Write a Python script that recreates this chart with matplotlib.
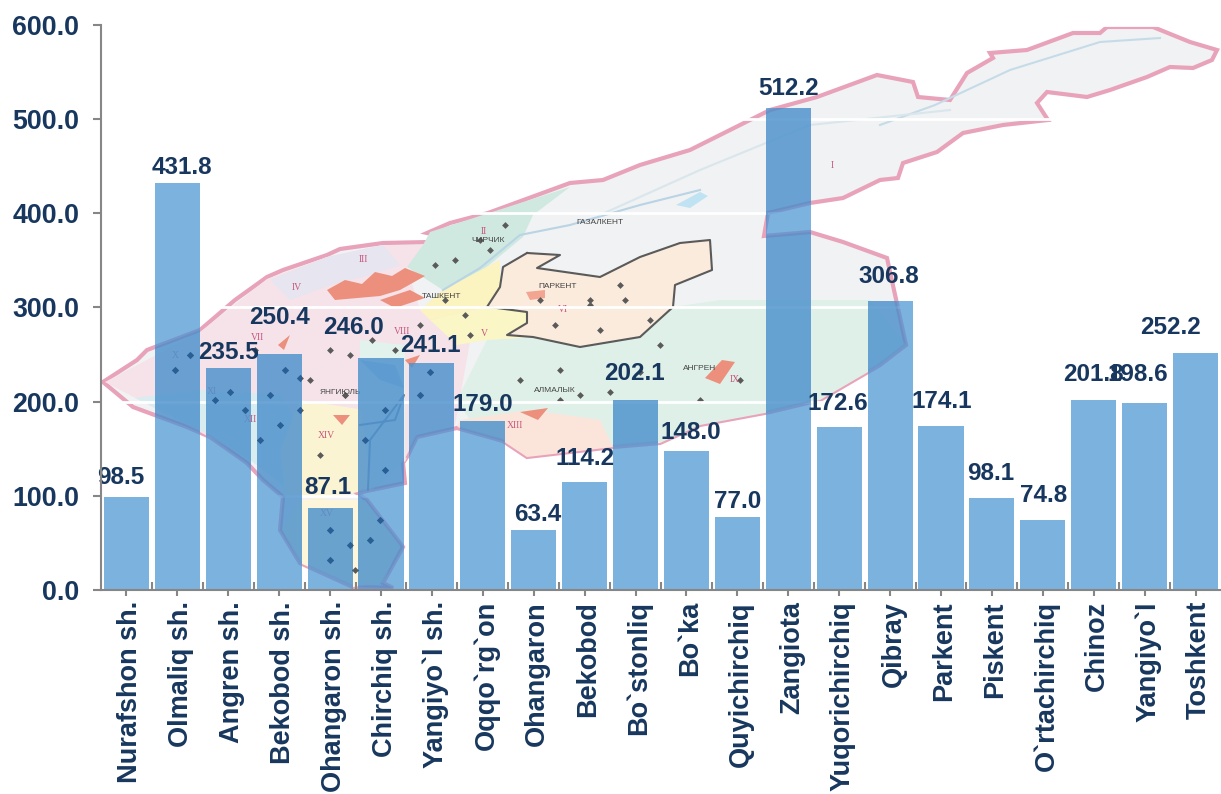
import matplotlib
matplotlib.use('Agg')
import matplotlib.pyplot as plt
from matplotlib.patches import Polygon
from matplotlib.path import Path
from matplotlib.transforms import Affine2D, ScaledTranslation

plt.rcParams['font.family'] = ['Liberation Sans', 'DejaVu Sans']
plt.rcParams['font.weight'] = 'bold'

districts = ['Nurafshon sh.', 'Olmaliq sh.', 'Angren sh.', 'Bekobod sh.', 'Ohangaron sh.',
             'Chirchiq sh.', 'Yangiyo`l sh.', 'Oqqo`rg`on', 'Ohangaron', 'Bekobod',
             'Bo`stonliq', 'Bo`ka', 'Quyichirchiq', 'Zangiota', 'Yuqorichirchiq',
             'Qibray', 'Parkent', 'Piskent', 'O`rtachirchiq', 'Chinoz', 'Yangiyo`l', 'Toshkent']
values = [98.5, 431.8, 235.5, 250.4, 87.1, 246.0, 241.1, 179.0, 63.4, 114.2, 202.1,
          148.0, 77.0, 512.2, 172.6, 306.8, 174.1, 98.1, 74.8, 201.8, 198.6, 252.2]
y_ticks = [0, 100, 200, 300, 400, 500, 600]

# hand placed value labels, pixels away from the bar top
label_dx = [-6, 5, 0, 0, -2, -28, -2, 0, 4, 0, -1, 4, 0, 0, -1, -1, 1, -1, 1, 0, -7, -25]
label_dy = [20, 16, 16, 37, 20, 31, 17, 17, 16, 24, 26, 18, 16, 19, 24, 25, 25, 24, 24, 25, 28, 25]

TEXT = '#17375E'
AXIS = '#868686'

fig = plt.figure(figsize=(12.21, 7.94), dpi=100)
ax = fig.add_axes([101 / 1221, (794 - 590) / 794, 1120 / 1221, 565 / 794])
ax.set_xlim(-0.5, 21.5)
ax.set_ylim(0, 600)

# background map, traced in image pixels
px = Affine2D().scale(1, -1).translate(0, 794)

outline = [(103, 382), (137, 360), (147, 350), (200, 330), (235, 300), (267, 277), (283, 270), (327, 255),
           (340, 249), (383, 243), (430, 242), (450, 238), (427, 233), (450, 223), (488, 213), (570, 183),
           (603, 180), (640, 165), (690, 150), (720, 135), (770, 110), (817, 97), (877, 75), (913, 82),
           (918, 97), (950, 100), (967, 73), (993, 58), (990, 53), (1027, 50), (1073, 33), (1100, 33),
           (1107, 27), (1153, 27), (1190, 42), (1217, 50), (1212, 60), (1193, 68), (1170, 67), (1147, 77),
           (1110, 90), (1087, 97), (1047, 92), (1037, 103), (1048, 120), (1003, 125), (963, 133), (937, 152),
           (903, 163), (898, 178), (880, 180), (843, 198), (810, 203), (768, 213), (764, 236), (810, 232),
           (843, 242), (887, 258), (906, 345), (880, 365), (820, 400), (770, 412), (700, 425), (660, 443),
           (613, 447), (527, 457), (503, 441), (457, 428), (417, 437), (407, 457), (403, 463), (405, 483),
           (357, 493), (367, 500), (403, 547), (383, 583), (393, 588), (353, 587), (300, 563), (280, 530),
           (283, 497), (263, 480), (247, 463), (210, 437), (187, 427), (133, 407)]
ax.add_patch(Polygon(outline, closed=True, fc='#F1F2F3', ec='#E8A3BA', lw=3, transform=px, zorder=0.1))

regions = [
    ('#F5E3E9', [(105, 382), (200, 332), (267, 279), (327, 257), (383, 245), (425, 245), (407, 267), (420, 310),
                 (450, 322), (470, 342), (455, 425), (417, 435), (405, 462), (300, 400), (270, 470), (187, 425)]),
    ('#D9ECEF', [(135, 398), (200, 390), (280, 395), (300, 425), (290, 490), (250, 460), (210, 435)]),
    ('#FBF4D3', [(300, 400), (365, 410), (372, 490), (358, 492), (320, 500), (285, 495), (280, 450)]),
    ('#E2F2EC', [(360, 340), (405, 345), (405, 460), (372, 490), (360, 400)]),
    ('#FDF6DA', [(300, 500), (365, 500), (400, 545), (383, 583), (353, 587), (300, 563), (282, 530)]),
    ('#CFE9E0', [(430, 232), (570, 187), (533, 215), (523, 237), (483, 270), (443, 290), (407, 267), (423, 245)]),
    ('#E6E5F0', [(270, 280), (327, 257), (383, 245), (400, 265), (370, 275), (330, 285), (290, 300)]),
    ('#DFF0E8', [(487, 340), (533, 337), (580, 347), (640, 337), (673, 307), (720, 300), (870, 300), (906, 345),
                 (880, 365), (820, 400), (770, 412), (700, 425), (660, 443), (613, 447), (600, 420), (530, 410),
                 (470, 420), (457, 400)]),
    ('#FBE5DA', [(460, 420), (530, 410), (600, 420), (613, 447), (527, 457), (503, 441), (457, 428)]),
    ('#FBF6C5', [(430, 320), (487, 307), (527, 312), (527, 323), (507, 335), (533, 337), (487, 340), (457, 345)]),
    ('#FBF3C0', [(443, 290), (500, 260), (500, 287), (487, 307), (430, 320), (420, 310)]),
    ('#FBEBDD', [(503, 267), (527, 253), (560, 255), (537, 268), (600, 277), (640, 257), (680, 243), (710, 240),
                 (712, 270), (675, 285), (673, 307), (640, 337), (580, 347), (533, 337), (507, 335), (527, 323),
                 (527, 312), (497, 308), (487, 307), (500, 287)]),
    ('#EC8F7C', [(327, 290), (345, 280), (362, 284), (375, 272), (392, 276), (405, 268), (425, 276), (400, 290),
                 (380, 296), (335, 300)]),
    ('#EC8F7C', [(380, 300), (410, 290), (425, 298), (395, 308)]),
    ('#EC8F7C', [(705, 378), (722, 360), (735, 362), (720, 384)]),
    ('#F2A691', [(526, 292), (545, 290), (545, 298), (530, 300)]),
    ('#EC8F7C', [(520, 412), (548, 408), (538, 420)]),
    ('#EC8F7C', [(333, 415), (350, 415), (342, 425)]),
    ('#EC8F7C', [(405, 360), (420, 355), (412, 368)]),
    ('#EC8F7C', [(278, 345), (290, 335), (284, 350)]),
    ('#BFE3F2', [(676, 205), (700, 192), (708, 196), (690, 208)]),
    ('#A9C9E8', [(360, 360), (395, 365), (404, 388), (380, 380)]),
]
for color, points in regions:
    ax.add_patch(Polygon(points, closed=True, fc=color, ec='none', transform=px, zorder=0.2))

borders = [
    ('#5A5A5A', [(527, 253), (560, 255), (537, 268), (600, 277), (640, 257), (680, 243), (710, 240), (712, 270),
                 (675, 285), (673, 307), (640, 337), (580, 347), (533, 337), (507, 335), (527, 323), (527, 312),
                 (497, 308), (487, 307), (500, 287), (503, 267), (527, 253)]),
    ('#6A7FA0', [(360, 425), (395, 420), (404, 395), (370, 440), (368, 490)]),
    ('#B9D4E4', [(443, 290), (480, 268), (520, 235), (570, 225), (640, 205), (700, 190)]),
    ('#C5DCE8', [(880, 125), (935, 105), (1010, 70), (1100, 42), (1160, 38)]),
    ('#D9E6EC', [(600, 215), (700, 170), (810, 125), (950, 110)]),
    ('#E8A3BA', [(407, 457), (417, 437), (457, 428), (503, 441)]),
]
for color, points in borders:
    ax.plot(*zip(*points), color=color, lw=1.5, transform=px, zorder=0.3)

towns_x = [300, 330, 345, 372, 395, 420, 445, 465, 470, 490, 540, 555, 590, 600, 620, 650, 660, 230, 245, 260,
           285, 300, 320, 345, 365, 385, 330, 350, 380, 330, 355, 370, 520, 560, 610, 700, 740, 175, 190, 215,
           280, 310, 350, 435, 455, 480, 505, 590, 625, 640, 560, 580, 430, 420, 385, 270, 255]
towns_y = [378, 350, 395, 340, 350, 325, 300, 315, 335, 250, 300, 325, 300, 330, 285, 320, 345, 392, 410, 440,
           370, 410, 455, 395, 440, 410, 530, 545, 520, 560, 570, 540, 380, 370, 392, 400, 380, 370, 355, 400,
           425, 380, 355, 265, 260, 240, 225, 305, 300, 372, 400, 395, 372, 395, 470, 395, 350]
ax.scatter(towns_x, towns_y, s=12, marker='D', color='#5A5A5A', linewidths=0, transform=px, zorder=0.35)

place_names = [('ТАШКЕНТ', 442, 297), ('ПАРКЕНТ', 558, 286), ('АНГРЕН', 700, 368), ('ЧИРЧИК', 488, 240),
               ('ГАЗАЛКЕНТ', 600, 223), ('АЛМАЛЫК', 555, 391), ('ЯНГИЮЛЬ', 340, 393)]
for name, name_x, name_y in place_names:
    ax.text(name_x, name_y, name, fontsize=6, fontweight='normal', color='#444444', ha='center', va='center',
            transform=px, zorder=0.4)

numerals = [('XIV', 326, 435), ('XV', 327, 513), ('XII', 250, 420), ('XI', 212, 392), ('X', 175, 355),
            ('VII', 258, 337), ('VIII', 402, 332), ('V', 484, 334), ('VI', 563, 310), ('IV', 297, 288),
            ('III', 363, 260), ('II', 484, 232), ('XIII', 515, 425), ('IX', 735, 380), ('I', 832, 165)]
for name, name_x, name_y in numerals:
    ax.text(name_x, name_y, name, fontsize=7, fontweight='normal', family='Liberation Serif', color='#C9567D',
            ha='center', va='center', transform=px, zorder=0.4)

# white grid sits on the map but under the bars
ax.set_axisbelow(True)
ax.yaxis.grid(True, color='white', lw=2)
ax.xaxis.grid(False)

bars = ax.bar(range(len(values)), values, width=0.885, color='#5B9FD6', alpha=0.8, zorder=2)

# map shows darker through the bars
bar_paths = [b.get_path().transformed(b.get_patch_transform()) for b in bars]
bar_clip = Path.make_compound_path(*bar_paths)
map_shade = Polygon(outline, closed=True, fc='#2F73B5', ec='#6F7FBE', lw=3, alpha=0.22, transform=px, zorder=2.1)
ax.add_patch(map_shade)
map_shade.set_clip_path(bar_clip, ax.transData)
town_shade = ax.scatter(towns_x, towns_y, s=14, marker='D', color='#2A5F95', linewidths=0, transform=px, zorder=2.2)
town_shade.set_clip_path(bar_clip, ax.transData)

for i, v in enumerate(values):
    ax.annotate('%.1f' % v, (i, v), xytext=(label_dx[i], label_dy[i]), textcoords='offset pixels',
                ha='center', va='center', fontsize=17.5, color=TEXT, fontweight='bold', zorder=3)

for side in ['top', 'right']:
    ax.spines[side].set_visible(False)
for side in ['left', 'bottom']:
    ax.spines[side].set_color(AXIS)
    ax.spines[side].set_linewidth(1.5)
    ax.spines[side].set_zorder(4)

ax.set_yticks(y_ticks)
ax.set_yticklabels(['%.1f' % t for t in y_ticks], fontsize=19.3, color=TEXT, fontweight='bold')
ax.set_xticks(range(len(districts)))
ax.set_xticklabels(districts, rotation=90, fontsize=19.5, color=TEXT, fontweight='bold')
ax.set_xticks([i - 0.5 for i in range(1, len(districts))], minor=True)
ax.tick_params(axis='y', direction='out', length=5.5, width=1.5, color=AXIS, pad=10)
ax.tick_params(axis='x', which='major', direction='out', length=4, width=1.5, color=AXIS, pad=4)
ax.tick_params(axis='x', which='minor', direction='in', length=6, width=1.5, color=AXIS)

# tick labels sit a little right of the tick in the original
shift = ScaledTranslation(3.5 / 100, 0, fig.dpi_scale_trans)
for label in ax.get_xticklabels():
    label.set_transform(label.get_transform() + shift)

fig.savefig('out.png', dpi=100)
